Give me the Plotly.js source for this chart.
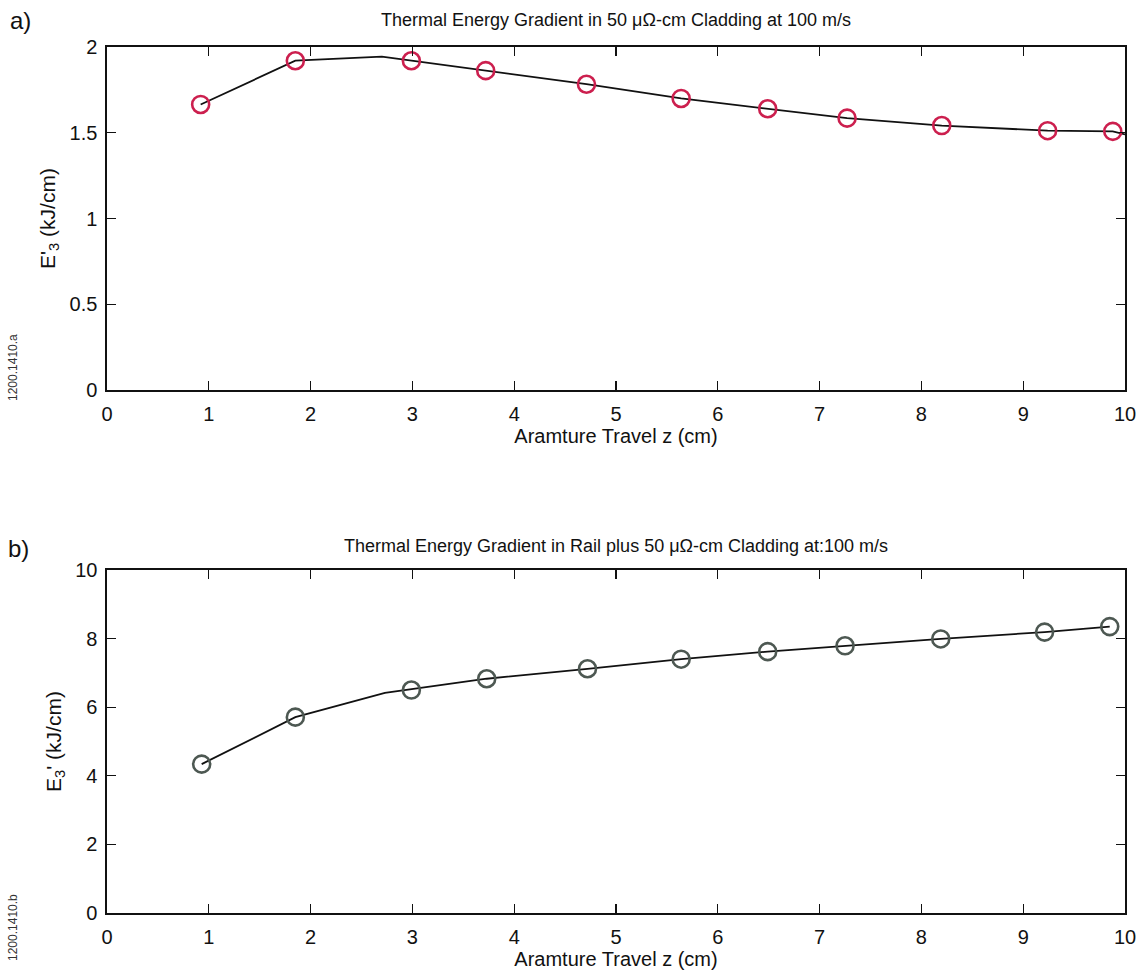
<!DOCTYPE html>
<html>
<head>
<meta charset="utf-8">
<script src="https://cdn.plot.ly/plotly-3.0.1.min.js"></script>
<style>html,body{margin:0;padding:0;background:#fff;}#chart{width:1143px;height:975px;}</style>
</head>
<body>
<div id="chart"></div>
<script>
// Panel a: cladding only
const aMarkerX = [0.92, 1.85, 2.99, 3.72, 4.71, 5.64, 6.49, 7.27, 8.20, 9.24, 9.88];
const aMarkerY = [1.665, 1.92, 1.92, 1.862, 1.783, 1.70, 1.64, 1.585, 1.542, 1.512, 1.508];
const aLineX = [0.92, 1.85, 2.70, 3.72, 4.71, 5.64, 6.49, 7.27, 8.20, 9.24, 9.88, 10.0];
const aLineY = [1.665, 1.92, 1.944, 1.862, 1.783, 1.70, 1.64, 1.585, 1.542, 1.512, 1.508, 1.49];

// Panel b: rail plus cladding
const bMarkerX = [0.93, 1.85, 2.99, 3.73, 4.72, 5.64, 6.49, 7.25, 8.19, 9.21, 9.85];
const bMarkerY = [4.34, 5.71, 6.50, 6.83, 7.12, 7.40, 7.62, 7.79, 7.99, 8.19, 8.35];
const bLineX = [0.93, 1.85, 2.73, 3.73, 4.72, 5.64, 6.49, 7.25, 8.19, 9.21, 9.85];
const bLineY = [4.34, 5.71, 6.42, 6.83, 7.12, 7.40, 7.62, 7.79, 7.99, 8.19, 8.35];

const xTicks = [0, 1, 2, 3, 4, 5, 6, 7, 8, 9, 10];
const aYTicks = [0, 0.5, 1, 1.5, 2];
const aYTickText = ['0', '0.5', '1', '1.5', '2'];
const bYTicks = [0, 2, 4, 6, 8, 10];

const titleA = 'Thermal Energy Gradient in 50 \u03bc\u03a9-cm Cladding at 100 m/s';
const titleB = 'Thermal Energy Gradient in Rail plus 50 \u03bc\u03a9-cm Cladding at:100 m/s';
const xTitle = 'Aramture Travel z (cm)';
const yTitleA = "E'<sub>3</sub> (kJ/cm)";
const yTitleB = "E<sub>3</sub>' (kJ/cm)";

const FONT = 'Liberation Sans, Arial, Helvetica, sans-serif';
const W = 1143, H = 975;
const xl = 107, xr = 1125;
const aTop = 47, aBot = 390, bTop = 570, bBot = 913;

const traces = [
  {x: aLineX, y: aLineY, xaxis: 'x', yaxis: 'y', mode: 'lines', line: {color: '#111', width: 1.8}, hoverinfo: 'skip'},
  {x: aMarkerX, y: aMarkerY, xaxis: 'x', yaxis: 'y', mode: 'markers',
   marker: {symbol: 'circle-open', size: 17, color: '#cc1f4e', line: {width: 2.6, color: '#cc1f4e'}}},
  {x: bLineX, y: bLineY, xaxis: 'x2', yaxis: 'y2', mode: 'lines', line: {color: '#111', width: 1.8}, hoverinfo: 'skip'},
  {x: bMarkerX, y: bMarkerY, xaxis: 'x2', yaxis: 'y2', mode: 'markers',
   marker: {symbol: 'circle-open', size: 17, color: '#4d5852', line: {width: 2.6, color: '#4d5852'}}}
];

const axisCommon = {
  showgrid: false, zeroline: false, showline: true, linecolor: '#111', linewidth: 1.6,
  mirror: 'allticks', ticks: 'inside', ticklen: 9, tickwidth: 1.3, tickcolor: '#111',
  tickfont: {family: FONT, size: 20, color: '#111'}
};

function xAxis(anchor) {
  return Object.assign({}, axisCommon, {
    anchor: anchor, domain: [xl / W, xr / W], range: [0, 10],
    tickvals: xTicks, ticktext: xTicks.map(String), ticklabelstandoff: 5,
    title: {text: xTitle, font: {family: FONT, size: 20, color: '#111'}, standoff: 3}
  });
}

const layout = {
  width: W, height: H, showlegend: false,
  paper_bgcolor: '#fff', plot_bgcolor: '#fff',
  margin: {l: 0, r: 0, t: 0, b: 0},
  xaxis: xAxis('y'),
  yaxis: Object.assign({}, axisCommon, {
    anchor: 'x', domain: [1 - aBot / H, 1 - aTop / H], range: [0, 2],
    tickvals: aYTicks, ticktext: aYTickText, ticklabelstandoff: 4,
    title: {text: yTitleA, font: {family: FONT, size: 21, color: '#111'}, standoff: 8}
  }),
  xaxis2: xAxis('y2'),
  yaxis2: Object.assign({}, axisCommon, {
    anchor: 'x2', domain: [1 - bBot / H, 1 - bTop / H], range: [0, 10],
    tickvals: bYTicks, ticktext: bYTicks.map(String), ticklabelstandoff: 4,
    title: {text: yTitleB, font: {family: FONT, size: 21, color: '#111'}, standoff: 8}
  }),
  annotations: [
    {xref: 'paper', yref: 'paper', x: (xl + xr) / 2 / W, y: 1 - 20 / H, text: titleA, showarrow: false,
     font: {family: FONT, size: 18, color: '#111'}, xanchor: 'center', yanchor: 'middle'},
    {xref: 'paper', yref: 'paper', x: (xl + xr) / 2 / W, y: 1 - 546 / H, text: titleB, showarrow: false,
     font: {family: FONT, size: 18, color: '#111'}, xanchor: 'center', yanchor: 'middle'},
    {xref: 'paper', yref: 'paper', x: 8 / W, y: 1 - 20 / H, text: 'a)', showarrow: false,
     font: {family: FONT, size: 24, color: '#111'}, xanchor: 'left', yanchor: 'middle'},
    {xref: 'paper', yref: 'paper', x: 6 / W, y: 1 - 548 / H, text: 'b)', showarrow: false,
     font: {family: FONT, size: 24, color: '#111'}, xanchor: 'left', yanchor: 'middle'},
    {xref: 'paper', yref: 'paper', x: 13 / W, y: 1 - 368 / H, text: '1200.1410.a', showarrow: false, textangle: -90,
     font: {family: FONT, size: 12, color: '#333'}, xanchor: 'center', yanchor: 'middle'},
    {xref: 'paper', yref: 'paper', x: 13 / W, y: 1 - 928 / H, text: '1200.1410.b', showarrow: false, textangle: -90,
     font: {family: FONT, size: 12, color: '#333'}, xanchor: 'center', yanchor: 'middle'}
  ]
};

Plotly.newPlot('chart', traces, layout, {displayModeBar: false, staticPlot: true});
</script>
</body>
</html>
